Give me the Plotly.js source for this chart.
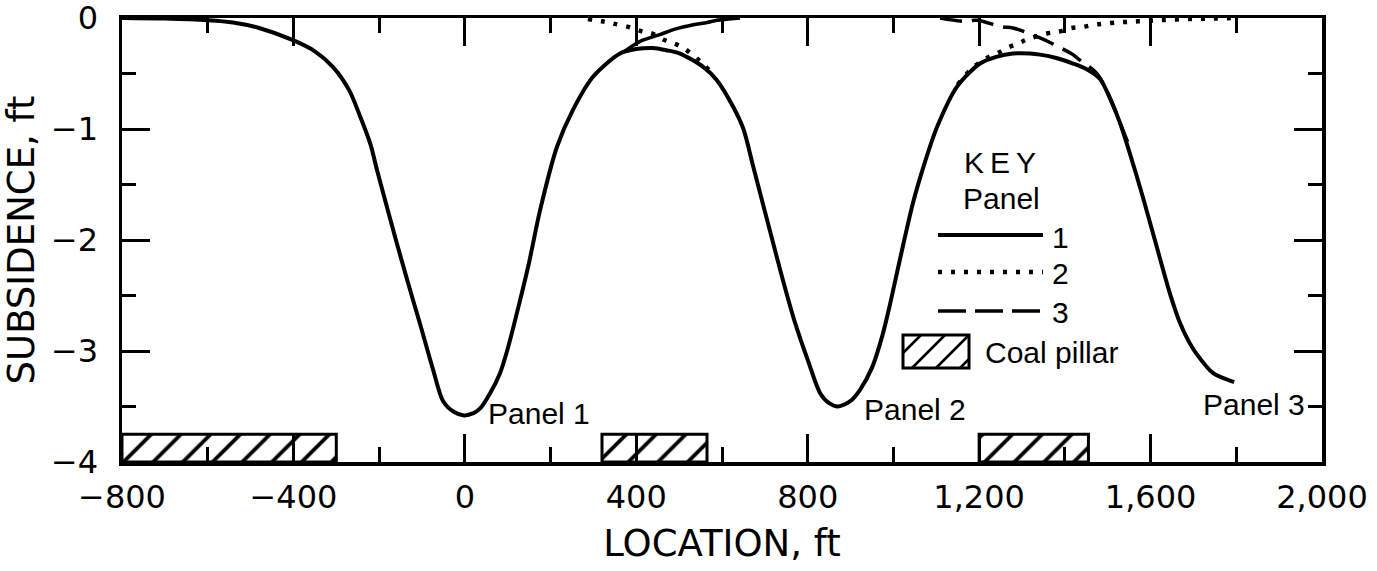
<!DOCTYPE html>
<html><head><meta charset="utf-8">
<script src="https://cdn.plot.ly/plotly-3.0.1.min.js"></script>
<style>html,body{margin:0;padding:0;background:#fff}</style>
</head><body><div id="chart" style="width:1377px;height:571px"></div>
<script>
// ---- data ----
const mainX = [-800,-700,-600,-541,-480,-401,-350,-308,-270,-245,-220,-205,-175,-150,-121,-105,-74,-51,-25,-2,20,35,59,82,100,129,150,175,215,252,299,362,400,439,470,502,556,588,626,650,673,712,742,770,800,829,850,871,900,922,950,975,992,1008,1046,1075,1102,1148,1202,1240,1279,1319,1342,1380,1419,1450,1482,1505,1529,1575,1610,1645,1668,1690,1708,1746,1795];
const mainY = [0,-0.005,-0.02,-0.04,-0.09,-0.2,-0.3,-0.44,-0.65,-0.88,-1.14,-1.37,-1.8,-2.15,-2.54,-2.75,-3.17,-3.45,-3.55,-3.58,-3.56,-3.52,-3.38,-3.2,-2.98,-2.54,-2.2,-1.74,-1.16,-0.83,-0.53,-0.32,-0.28,-0.27,-0.29,-0.32,-0.44,-0.56,-0.8,-1.0,-1.34,-1.92,-2.36,-2.74,-3.08,-3.38,-3.47,-3.5,-3.45,-3.35,-3.15,-2.85,-2.58,-2.3,-1.66,-1.28,-0.98,-0.62,-0.41,-0.35,-0.32,-0.32,-0.33,-0.36,-0.41,-0.46,-0.55,-0.72,-0.95,-1.52,-2.0,-2.48,-2.74,-2.92,-3.03,-3.2,-3.28];

const panel1TailX = [369,409,455,490,533,565,588,615,642];
const panel1TailY = [-0.31,-0.21,-0.15,-0.1,-0.06,-0.04,-0.02,-0.01,0];

const panel2LeftX = [287,320,346,381,413,437,467,495,521,549,570];
const panel2LeftY = [-0.01,-0.03,-0.05,-0.08,-0.12,-0.14,-0.2,-0.24,-0.3,-0.39,-0.47];
const panel2RightX = [1150,1179,1198,1218,1242,1265,1291,1314,1358,1389,1416,1442,1470,1494,1522,1545,1571,1620,1680,1740,1800];
const panel2RightY = [-0.6,-0.47,-0.41,-0.36,-0.32,-0.27,-0.23,-0.19,-0.14,-0.12,-0.09,-0.08,-0.06,-0.05,-0.04,-0.035,-0.03,-0.02,-0.01,-0.005,0];

const panel3X = [1109,1167,1195,1253,1279,1342,1370,1419,1435,1475,1505,1529,1550];
const panel3Y = [0,-0.03,-0.02,-0.08,-0.09,-0.18,-0.23,-0.33,-0.38,-0.5,-0.72,-0.95,-1.15];

const pillarStart = [-800, 320, 1200];
const pillarEnd   = [-300, 565, 1455];
const pillarTop   = -3.75;
const pillarBase  = -4;

const xTickVals = [-800,-400,0,400,800,1200,1600,2000];
const xTickText = ['\u2212800','\u2212400','0','400','800','1,200','1,600','2,000'];
const yTickVals = [0,-1,-2,-3,-4];
const yTickText = ['0','\u22121','\u22122','\u22123','\u22124'];

const keyLabels = ['1','2','3'];
const panelNames = ['Panel 1','Panel 2','Panel 3'];

// ---- geometry helpers (plot area in px) ----
const L = 122, R = 1322, T = 18, B = 462;
const XR = [-800, 2000], YR = [-4, 0];
const px2x = p => XR[0] + (p - L) / (R - L) * (XR[1] - XR[0]);
const px2y = p => YR[1] - (p - T) / (B - T) * (YR[1] - YR[0]);

const blk = '#000';
const lineW = 4;

const traces = [
  {type:'bar', x: pillarStart, y: pillarStart.map(()=>pillarTop - pillarBase),
   width: pillarStart.map((s,i)=>pillarEnd[i]-s), offset: 0, base: pillarBase,
   marker:{color:'#fff', line:{color:blk, width:3},
     pattern:{shape:'/', size:21, solidity:0.18, fgcolor:blk, fgopacity:1, bgcolor:'#fff', fillmode:'overlay'}},
   showlegend:false, hoverinfo:'skip'},
  {type:'scatter', mode:'lines', x: mainX, y: mainY, line:{color:blk, width:lineW, shape:'spline', smoothing:0.8}, showlegend:false},
  {type:'scatter', mode:'lines', x: panel1TailX, y: panel1TailY, line:{color:blk, width:3.5, shape:'spline', smoothing:0.8}, showlegend:false},
  {type:'scatter', mode:'lines', x: panel2LeftX, y: panel2LeftY, line:{color:blk, width:4.5, dash:'4px,9px', shape:'spline'}, showlegend:false},
  {type:'scatter', mode:'lines', x: panel2RightX, y: panel2RightY, line:{color:blk, width:4.5, dash:'4px,9px', shape:'spline'}, showlegend:false},
  {type:'scatter', mode:'lines', x: panel3X, y: panel3Y, line:{color:blk, width:3.5, dash:'22px,10px', shape:'spline'}, showlegend:false}
];

// ---- manual key ----
const shapes = [];
const keyLineY = [235, 272, 311];
const keyDash = ['solid', '4px,9px', '28px,9px'];
const keyW = [4, 4.5, 3.5];
keyLineY.forEach((py, i) => {
  shapes.push({type:'line', xref:'x', yref:'y', x0: px2x(938), x1: px2x(1043), y0: px2y(py), y1: px2y(py),
    line:{color:blk, width:keyW[i], dash:keyDash[i]}});
});
// key hatched box
const bx0 = 903, bx1 = 969, by0 = 335, by1 = 368;
shapes.push({type:'rect', xref:'x', yref:'y', x0: px2x(bx0), x1: px2x(bx1), y0: px2y(by0), y1: px2y(by1),
  line:{color:blk, width:3}, fillcolor:'#fff', layer:'above'});
let hp = '';
for (let k = bx0 + by0 + 18; k < bx1 + by1; k += 24) {
  const xa = Math.max(bx0, k - by1), xb = Math.min(bx1, k - by0);
  if (xb <= xa) continue;
  hp += `M${px2x(xa)},${px2y(k - xa)}L${px2x(xb)},${px2y(k - xb)}`;
}
shapes.push({type:'path', xref:'x', yref:'y', path: hp, line:{color:blk, width:2.5}, layer:'above'});

const annFont = {family:'Liberation Sans, Arial, sans-serif', size:30, color:blk};
const annotations = [
  {x: px2x(1000), y: px2y(162), text:'K\u2009E\u2009Y', showarrow:false, xanchor:'center', yanchor:'middle', font: annFont},
  {x: px2x(1001), y: px2y(198), text:'Panel', showarrow:false, xanchor:'center', yanchor:'middle', font: annFont},
  {x: px2x(1050), y: px2y(237), text: keyLabels[0], showarrow:false, xanchor:'left', yanchor:'middle', font: annFont},
  {x: px2x(1050), y: px2y(273), text: keyLabels[1], showarrow:false, xanchor:'left', yanchor:'middle', font: annFont},
  {x: px2x(1050), y: px2y(312), text: keyLabels[2], showarrow:false, xanchor:'left', yanchor:'middle', font: annFont},
  {x: px2x(983), y: px2y(352), text:'Coal pillar', showarrow:false, xanchor:'left', yanchor:'middle', font: annFont},
  {x: px2x(486), y: px2y(413), text: panelNames[0], showarrow:false, xanchor:'left', yanchor:'middle', font: annFont},
  {x: px2x(862), y: px2y(409), text: panelNames[1], showarrow:false, xanchor:'left', yanchor:'middle', font: annFont},
  {x: px2x(1201), y: px2y(404), text: panelNames[2], showarrow:false, xanchor:'left', yanchor:'middle', font: annFont}
];

const tickFont = {family:'DejaVu Sans, sans-serif', size:32, color:blk};
const titleFont = {family:'DejaVu Sans, sans-serif', size:37, color:blk};

const layout = {
  width:1377, height:571,
  margin:{l:L, r:1377-R, t:T, b:571-B, pad:0},
  paper_bgcolor:'#fff', plot_bgcolor:'#fff',
  showlegend:false,
  bargap:0,
  xaxis:{range:XR, tickmode:'array', tickvals:xTickVals, ticktext:xTickText,
    ticks:'inside', ticklen:28, tickwidth:3, tickcolor:blk,
    minor:{tick0:-800, dtick:200, ticks:'inside', ticklen:15, tickwidth:3, tickcolor:blk, showgrid:false},
    showline:true, linewidth:3.5, linecolor:blk, mirror:'ticks',
    showgrid:false, zeroline:false, tickfont:tickFont, ticklabelstandoff:4, ticklabeloverflow:'allow',
    title:{text:'LOCATION, ft', font:titleFont, standoff:16}, automargin:false, fixedrange:true},
  yaxis:{range:[YR[0], YR[1] + 1e-6], tickmode:'array', tickvals:yTickVals, ticktext:yTickText,
    ticks:'inside', ticklen:28, tickwidth:3, tickcolor:blk,
    minor:{tick0:0, dtick:0.5, ticks:'inside', ticklen:14, tickwidth:3, tickcolor:blk, showgrid:false},
    showline:true, linewidth:3.5, linecolor:blk, mirror:'ticks',
    showgrid:false, zeroline:false, tickfont:tickFont, ticklabelstandoff:14, ticklabeloverflow:'allow',
    title:{text:'SUBSIDENCE, ft', font:titleFont, standoff:9}, automargin:false, fixedrange:true},
  shapes: shapes,
  annotations: annotations
};

Plotly.newPlot('chart', traces, layout, {staticPlot:true, displayModeBar:false});
</script>
</body></html>
